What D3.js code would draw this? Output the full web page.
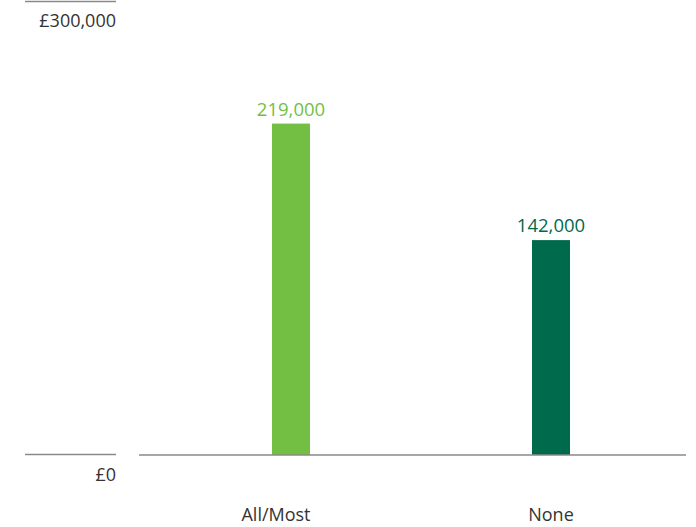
<!DOCTYPE html>
<html><head><meta charset="utf-8">
<script src="https://cdn.jsdelivr.net/npm/d3@7"></script>
<style>body{margin:0;background:#fff;} text{font-family:"Open Sans",sans-serif;}</style>
</head><body>
<svg id="c" width="696" height="527"></svg>
<script>
const categories = ["All/Most", "None"];
const values = [219000, 142000];
const valueLabels = ["219,000", "142,000"];
const colors = ["#72BF44", "#006A4D"];
const yTicks = [0, 300000];
const yTickLabels = ["£0", "£300,000"];

// layout constants
const catLabelShift = [-15, 0];

const svg = d3.select("#c");
const y = d3.scaleLinear().domain([0, 300000]).range([455, 1]);
const x = d3.scaleBand().domain(categories).range([161, 681]);
const barW = 38;

// left axis tick lines and labels
yTicks.forEach((t, i) => {
  const ly = y(t) + (t === 0 ? -0.5 : 0.5);
  svg.append("line").attr("x1", 25).attr("x2", 116)
    .attr("y1", ly).attr("y2", ly)
    .attr("stroke", "#8a8a8a").attr("stroke-width", 1.3);
  svg.append("text").attr("x", 116).attr("y", y(t) + 26)
    .attr("text-anchor", "end").attr("font-size", 18).attr("fill", "#333")
    .text(yTickLabels[i]);
});

// bars
svg.selectAll("rect.bar").data(values).enter().append("rect")
  .attr("x", (d, i) => x(categories[i]) + x.bandwidth() / 2 - barW / 2)
  .attr("y", d => y(d))
  .attr("width", barW)
  .attr("height", d => y(0) - y(d))
  .attr("fill", (d, i) => colors[i]);

// baseline
svg.append("line").attr("x1", 139).attr("x2", 686)
  .attr("y1", y(0)).attr("y2", y(0))
  .attr("stroke", "#8a8a8a").attr("stroke-width", 1.3);

// value labels
svg.selectAll("text.val").data(values).enter().append("text")
  .attr("x", (d, i) => x(categories[i]) + x.bandwidth() / 2)
  .attr("y", d => y(d) - 8)
  .attr("text-anchor", "middle").attr("font-size", 18.5)
  .attr("fill", (d, i) => colors[i])
  .text((d, i) => valueLabels[i]);

// category labels
svg.selectAll("text.cat").data(categories).enter().append("text")
  .attr("x", (d, i) => x(d) + x.bandwidth() / 2 + catLabelShift[i])
  .attr("y", 521)
  .attr("text-anchor", "middle").attr("font-size", 18).attr("fill", "#333")
  .text(d => d);
</script>
</body></html>
